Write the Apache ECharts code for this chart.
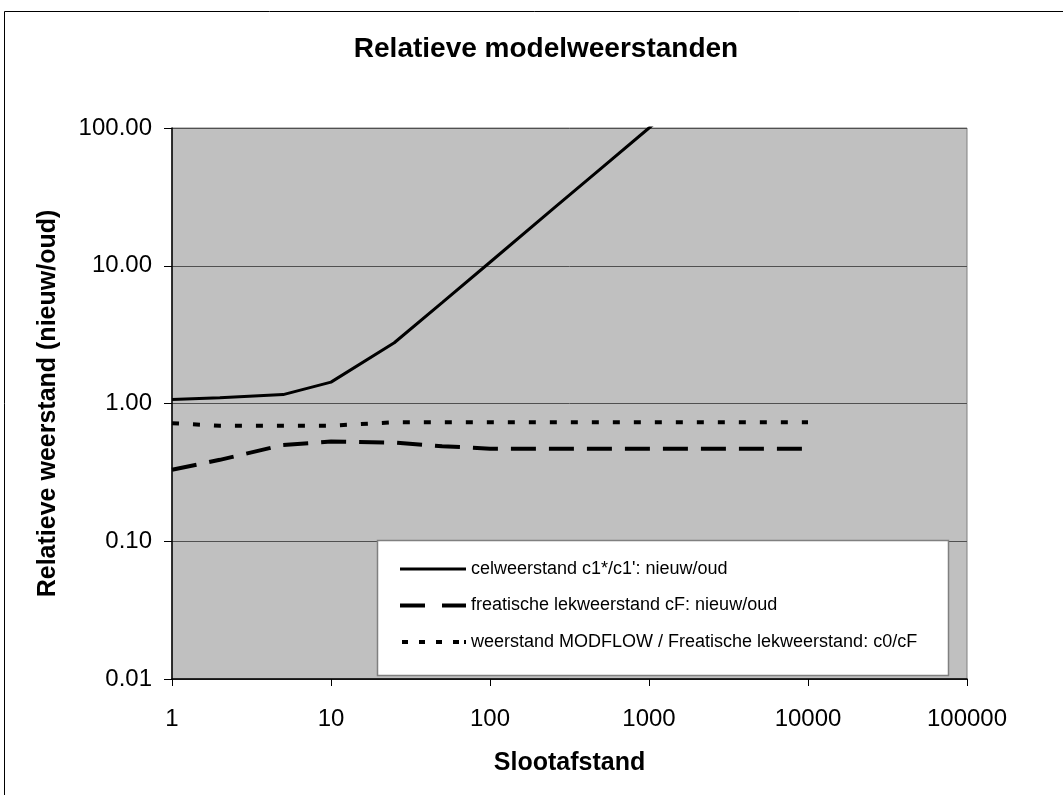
<!DOCTYPE html>
<html><head><meta charset="utf-8">
<script src="https://cdn.jsdelivr.net/npm/echarts@6/dist/echarts.min.js"></script>
<style>html,body{margin:0;padding:0;background:#fff}#c{width:1063px;height:795px}</style>
</head><body><div id="c"></div>
<script>
const titleText = 'Relatieve modelweerstanden';
const xName = 'Slootafstand';
const yName = 'Relatieve weerstand (nieuw/oud)';
const seriesNames = [
  "celweerstand c1*/c1': nieuw/oud",
  "freatische lekweerstand cF: nieuw/oud",
  "weerstand MODFLOW / Freatische lekweerstand: c0/cF"
];
const slootafstand = [1, 2, 5, 10, 25, 50, 100, 250, 500, 1000, 2500, 5000, 10000];
const celweerstand = [1.07, 1.10, 1.16, 1.43, 2.76, 5.4, 10.6, 26, 51, 100, 245, 480, 945];
const freatisch    = [0.33, 0.39, 0.50, 0.53, 0.52, 0.49, 0.47, 0.47, 0.47, 0.47, 0.47, 0.47, 0.47];
const modflow      = [0.72, 0.69, 0.69, 0.69, 0.73, 0.73, 0.73, 0.73, 0.73, 0.73, 0.73, 0.73, 0.73];

const pairs = ys => slootafstand.map((x, i) => [x, ys[i]]);
const font = 'Arial, "Liberation Sans", sans-serif';
const styles = [
  {color: '#000', width: 3, type: 'solid'},
  {color: '#000', width: 4, type: [25, 13]},
  {color: '#000', width: 4, type: [7, 14]}
];
// legend sample glyphs (66 x 14 box; tiny corner anchors fix the bounding box)
const anchor = 'M0,0h0.01v0.01h-0.01z M65.99,13.99h0.01v0.01h-0.01z ';
const legendIcons = [
  'path://' + anchor + 'M0,5.5h66v3h-66z',
  'path://' + anchor + 'M0,5h25v4h-25z M42,5h24v4h-24z',
  'path://' + anchor + 'M2,5h6v4h-6z M19,5h6v4h-6z M36,5h6v4h-6z M53,5h6v4h-6z M64,5h2v4h-2z'
];

const chart = echarts.init(document.getElementById('c'), null, {renderer: 'canvas'});
chart.setOption({
  animation: false,
  backgroundColor: '#fff',
  graphic: [
    {type: 'rect', z: -10, shape: {x: 4.5, y: 11.5, width: 1070, height: 800},
     style: {fill: '#fff', stroke: '#000', lineWidth: 1}},
    {type: 'rect', z: 3, shape: {x: 377.5, y: 540.5, width: 571, height: 135},
     style: {fill: '#fff', stroke: '#808080', lineWidth: 1.5}}
  ],
  title: {
    text: titleText, left: 541, top: 30, textAlign: 'center',
    textStyle: {fontFamily: font, fontSize: 28, fontWeight: 'bold', color: '#000'}
  },
  legend: {
    orient: 'vertical', left: 395, top: 555, itemWidth: 66, itemHeight: 14, itemGap: 18.5,
    z: 5, symbolKeepAspect: true,
    data: seriesNames.map((n, i) => ({
      name: n, icon: legendIcons[i],
      itemStyle: {color: '#000', borderWidth: 0, opacity: 1}
    })),
    textStyle: {fontFamily: font, fontSize: 18, color: '#000'}
  },
  grid: {
    left: 172, right: 96, top: 128, bottom: 116, show: true,
    backgroundColor: '#c0c0c0', borderColor: '#808080', borderWidth: 1
  },
  xAxis: {
    type: 'log', logBase: 10, min: 1, max: 100000,
    name: xName, nameLocation: 'middle', nameGap: 72,
    nameTextStyle: {fontFamily: font, fontSize: 25, fontWeight: 'bold', color: '#000'},
    axisLine: {show: true, lineStyle: {color: '#000', width: 1.5}},
    axisTick: {show: true, inside: false, length: 7, lineStyle: {color: '#000'}},
    axisLabel: {margin: 28, fontFamily: font, fontSize: 24, color: '#000',
      formatter: v => String(Math.round(v))},
    splitLine: {show: false},
    minorTick: {show: false}
  },
  yAxis: {
    type: 'log', logBase: 10, min: 0.01, max: 100,
    name: yName, nameLocation: 'middle', nameGap: 111, nameRotate: 90,
    nameTextStyle: {fontFamily: font, fontSize: 25, fontWeight: 'bold', color: '#000'},
    axisLine: {show: true, lineStyle: {color: '#000', width: 1.5}},
    axisTick: {show: true, inside: false, length: 8, lineStyle: {color: '#000'}},
    axisLabel: {margin: 20, fontFamily: font, fontSize: 24, color: '#000',
      formatter: v => Number(v).toFixed(2)},
    splitLine: {show: true, lineStyle: {color: '#505050', width: 1}}
  },
  series: [
    {name: seriesNames[0], type: 'line', data: pairs(celweerstand), showSymbol: false, symbol: 'none',
     clip: true, lineStyle: styles[0], itemStyle: {color: '#000'}},
    {name: seriesNames[1], type: 'line', data: pairs(freatisch), showSymbol: false, symbol: 'none',
     clip: true, lineStyle: styles[1], itemStyle: {color: '#000'}},
    {name: seriesNames[2], type: 'line', data: pairs(modflow), showSymbol: false, symbol: 'none',
     clip: true, lineStyle: styles[2], itemStyle: {color: '#000'}}
  ]
});
</script></body></html>
